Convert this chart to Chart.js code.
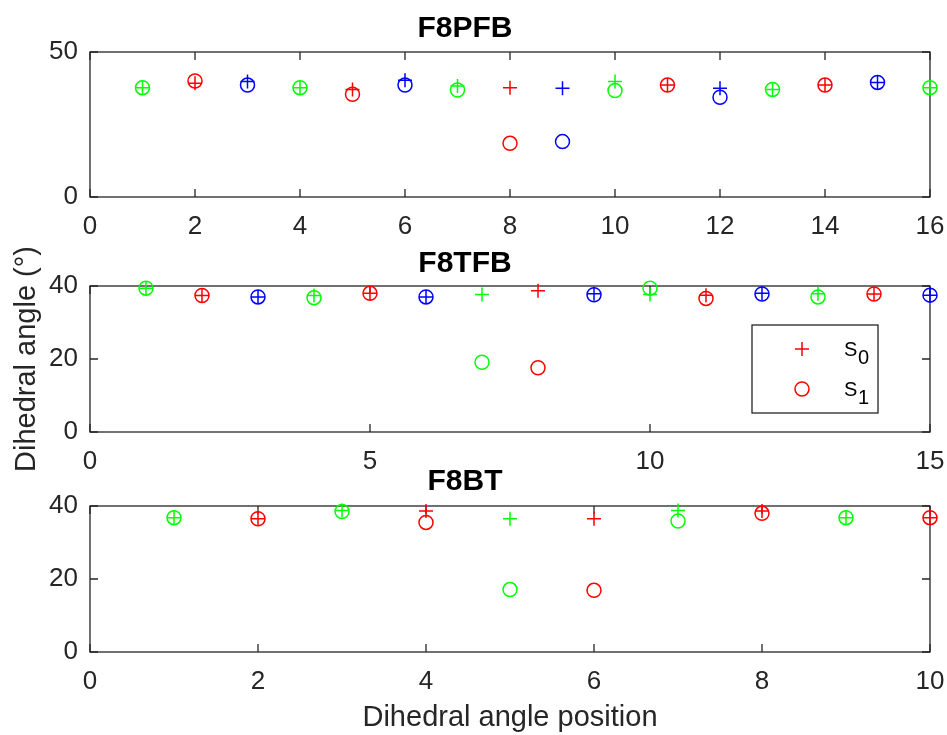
<!DOCTYPE html>
<html>
<head>
<meta charset="utf-8">
<script src="https://cdn.jsdelivr.net/npm/chart.js@4.4.0/dist/chart.umd.min.js"></script>
<style>
  html, body { margin: 0; padding: 0; background: #fff; }
  #wrap { position: relative; width: 947px; height: 735px; overflow: hidden; }
  canvas { position: absolute; left: 0; }
</style>
</head>
<body>
<div id="wrap">
  <canvas id="pfb" width="947" height="240" style="top:0px"></canvas>
  <canvas id="tfb" width="947" height="240" style="top:234px"></canvas>
  <canvas id="bt" width="947" height="281" style="top:454px"></canvas>
</div>
<script>
// F8PFB
const pfbPos = [1, 2, 3, 4, 5, 6, 7, 8, 9, 10, 11, 12, 13, 14, 15, 16];
const pfbS0 = [37.7, 39.2, 39.8, 37.7, 37.1, 40.3, 38.3, 37.7, 37.5, 39.8, 38.6, 37.5, 37.1, 38.6, 39.5, 37.7];
const pfbS1 = [37.7, 40.0, 38.6, 37.7, 35.4, 38.6, 36.9, 18.5, 19.1, 36.7, 38.6, 34.4, 37.1, 38.6, 39.5, 37.7];
const pfbXTicks = [0, 16, 2];
const pfbYTicks = [0, 50, 50];

// F8TFB
const tfbPos = [1, 2, 3, 4, 5, 6, 7, 8, 9, 10, 11, 12, 13, 14, 15];
const tfbS0 = [39.4, 37.4, 37.0, 37.4, 38.0, 37.0, 37.7, 38.7, 37.9, 37.7, 37.5, 38.0, 37.9, 37.8, 37.5];
const tfbS1 = [39.4, 37.4, 37.0, 36.8, 38.0, 37.0, 19.1, 17.6, 37.6, 39.4, 36.6, 37.8, 37.0, 37.8, 37.5];
const tfbXTicks = [0, 15, 5];
const tfbYTicks = [0, 40, 20];

// F8BT
const btPos = [1, 2, 3, 4, 5, 6, 7, 8, 9, 10];
const btS0 = [36.8, 36.5, 38.8, 38.6, 36.5, 36.5, 38.8, 38.6, 36.8, 36.8];
const btS1 = [36.8, 36.5, 38.5, 35.5, 17.1, 16.9, 35.9, 38.0, 36.8, 36.8];
const btXTicks = [0, 10, 2];
const btYTicks = [0, 40, 20];

const legendLabels = ['0', '1'];

const RED = '#ff0000', GREEN = '#00ff00', BLUE = '#0000ff';
const AXIS = '#262626';
const FONT = '"Liberation Sans", Arial, sans-serif';

// matlab style box with inward ticks
const boxPlugin = {
  id: 'box',
  beforeDatasetsDraw(chart) {
    const { ctx, chartArea: a, scales } = chart;
    ctx.save();
    ctx.strokeStyle = AXIS;
    ctx.lineWidth = 1.3;
    ctx.strokeRect(a.left, a.top, a.right - a.left, a.bottom - a.top);
    const len = 8;
    ctx.beginPath();
    scales.x.ticks.forEach(t => {
      const px = scales.x.getPixelForValue(t.value);
      ctx.moveTo(px, a.bottom); ctx.lineTo(px, a.bottom - len);
      ctx.moveTo(px, a.top); ctx.lineTo(px, a.top + len);
    });
    scales.y.ticks.forEach(t => {
      const py = scales.y.getPixelForValue(t.value);
      ctx.moveTo(a.left, py); ctx.lineTo(a.left + len, py);
      ctx.moveTo(a.right, py); ctx.lineTo(a.right - len, py);
    });
    ctx.stroke();
    ctx.restore();
  }
};

const legendPlugin = {
  id: 'stateLegend',
  afterDraw(chart) {
    const { ctx, chartArea: a } = chart;
    const x0 = a.right - 178, y0 = a.top + 39, w = 126, h = 88;
    ctx.save();
    ctx.fillStyle = '#fff';
    ctx.fillRect(x0, y0, w, h);
    ctx.strokeStyle = AXIS;
    ctx.lineWidth = 1.3;
    ctx.strokeRect(x0, y0, w, h);
    ctx.strokeStyle = RED;
    ctx.lineWidth = 1.5;
    const mx = x0 + 50;
    ctx.beginPath();
    ctx.moveTo(mx - 7, y0 + 24); ctx.lineTo(mx + 7, y0 + 24);
    ctx.moveTo(mx, y0 + 17); ctx.lineTo(mx, y0 + 31);
    ctx.stroke();
    ctx.beginPath();
    ctx.arc(mx, y0 + 64, 7, 0, Math.PI * 2);
    ctx.stroke();
    ctx.fillStyle = '#000';
    ctx.font = '20px ' + FONT;
    ctx.textBaseline = 'alphabetic';
    legendLabels.forEach((sub, i) => {
      const by = y0 + 31 + i * 40;
      ctx.fillText('S', x0 + 92, by);
      ctx.fillText(sub, x0 + 106, by + 8);
    });
    ctx.restore();
  }
};

function makeChart(id, title, pos, s0, s1, cycle, xt, yt, opts) {
  const colorOf = (v, i) => cycle[i % cycle.length];
  const font = { family: FONT, size: 26 };
  new Chart(document.getElementById(id), {
    type: 'scatter',
    data: {
      datasets: [
        {
          label: 'S0',
          data: pos.map((x, i) => ({ x: x, y: s0[i] })),
          pointStyle: 'cross',
          pointRadius: 7,
          pointBorderWidth: 1.5,
          pointBorderColor: pos.map(colorOf),
          clip: false
        },
        {
          label: 'S1',
          data: pos.map((x, i) => ({ x: x, y: s1[i] })),
          pointStyle: 'circle',
          pointRadius: 7,
          pointBorderWidth: 1.5,
          pointBorderColor: pos.map(colorOf),
          pointBackgroundColor: 'rgba(0,0,0,0)',
          clip: false
        }
      ]
    },
    options: {
      responsive: false,
      animation: false,
      events: [],
      layout: { padding: { left: 0, right: 17, top: 0, bottom: 0 } },
      plugins: {
        legend: { display: false },
        tooltip: { enabled: false },
        title: {
          display: true,
          text: title,
          color: '#000',
          font: { family: FONT, size: 30, weight: 'bold', lineHeight: 1.2 },
          padding: opts.titlePad
        }
      },
      scales: {
        x: {
          type: 'linear',
          min: xt[0], max: xt[1],
          grid: { display: false, drawTicks: false },
          border: { display: false },
          ticks: { stepSize: xt[2], color: AXIS, font: font, padding: 14, maxRotation: 0 },
          title: opts.xTitle ? {
            display: true, text: opts.xTitle, color: AXIS,
            font: { family: FONT, size: 29 }, padding: { top: 0, bottom: 0 }
          } : { display: false },
          afterFit: s => { s.height = opts.xHeight; s.paddingLeft = 0; s.paddingRight = 0; }
        },
        y: {
          min: yt[0], max: yt[1],
          grid: { display: false, drawTicks: false },
          border: { display: false },
          ticks: { stepSize: yt[2], color: AXIS, font: font, padding: 12 },
          title: opts.yTitle ? {
            display: true, text: opts.yTitle, color: AXIS,
            font: { family: FONT, size: 29 }, padding: { top: 10, bottom: 0 }
          } : { display: false },
          afterFit: s => { s.width = 90; }
        }
      }
    },
    plugins: opts.legend ? [boxPlugin, legendPlugin] : [boxPlugin]
  });
}

makeChart('pfb', 'F8PFB', pfbPos, pfbS0, pfbS1, [GREEN, RED, BLUE], pfbXTicks, pfbYTicks,
  { titlePad: { top: 11, bottom: 5 }, xHeight: 43 });
makeChart('tfb', 'F8TFB', tfbPos, tfbS0, tfbS1, [GREEN, RED, BLUE], tfbXTicks, tfbYTicks,
  { titlePad: { top: 11.5, bottom: 4.5 }, xHeight: 42, yTitle: 'Dihedral angle (°)', legend: true });
makeChart('bt', 'F8BT', btPos, btS0, btS1, [GREEN, RED], btXTicks, btYTicks,
  { titlePad: { top: 9.5, bottom: 6.5 }, xHeight: 83, xTitle: 'Dihedral angle position' });
</script>
</body>
</html>
